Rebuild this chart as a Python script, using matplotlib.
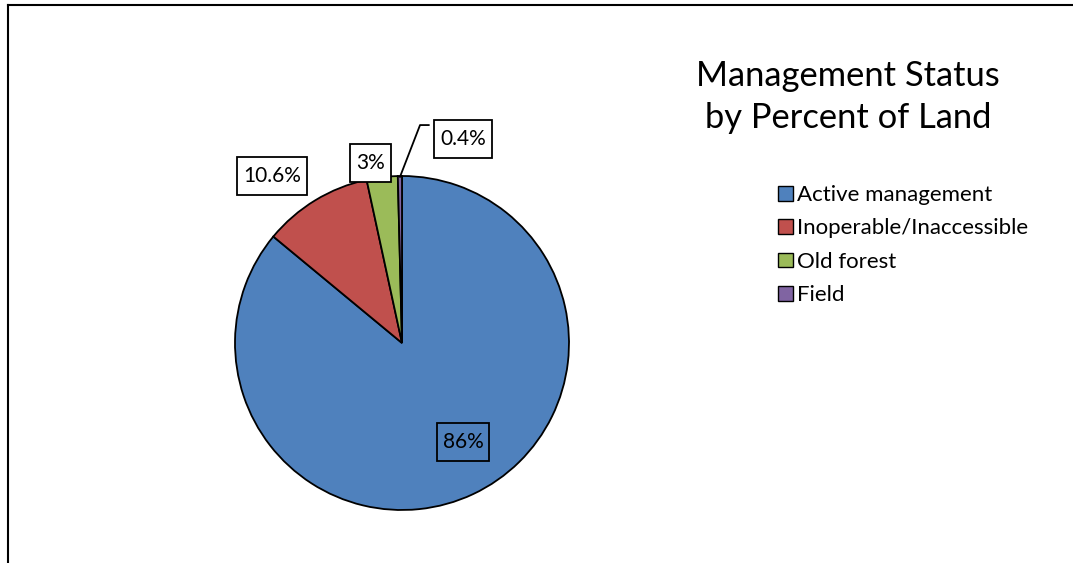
"""Management status pie chart, Excel-style."""

import matplotlib

matplotlib.use("Agg")

import matplotlib.pyplot as plt
from matplotlib.lines import Line2D
from matplotlib.patches import Patch, Rectangle

categories = ["Active management", "Inoperable/Inaccessible", "Old forest", "Field"]
shares = [86, 10.6, 3, 0.4]
share_labels = ["86%", "10.6%", "3%", "0.4%"]
colors = ["#4F81BD", "#C0504D", "#9BBB59", "#8064A2"]

# label box centres in pie units (radius = 1)
label_pos = [(0.365, -0.593), (-0.78, 1.0), (-0.19, 1.078), (0.365, 1.22)]

W, H = 1073, 563
plt.rcParams["font.family"] = ["Lato", "DejaVu Sans"]

fig = plt.figure(figsize=(W / 100, H / 100), dpi=100)
cx, cy, r = 402, 343, 167
ax = fig.add_axes([(cx - r) / W, (H - cy - r) / H, 2 * r / W, 2 * r / H])

ax.pie(
    shares,
    colors=colors,
    startangle=90,
    counterclock=False,
    radius=1,
    wedgeprops=dict(edgecolor="black", linewidth=1.3),
)
ax.set_xlim(-1, 1)
ax.set_ylim(-1, 1)
ax.set_aspect("equal")
ax.axis("off")

texts = []
for text, (x, y) in zip(share_labels, label_pos):
    texts.append(ax.text(x, y, text, ha="center", va="center", fontsize=15,
                         zorder=6, clip_on=False))

# leader line for the tiny slice
ax.add_line(Line2D([-0.012, 0.108, 0.16], [0.995, 1.305, 1.305],
                   color="black", linewidth=1.3, clip_on=False))

# Excel-like label boxes: a bit more padding vertically than horizontally
fig.canvas.draw()
renderer = fig.canvas.get_renderer()
pad_x, pad_y = 6, 9
to_data = ax.transData.inverted()
for i, t in enumerate(texts):
    bb = t.get_window_extent(renderer)
    x0, y0 = to_data.transform((bb.x0 - pad_x, bb.y0 - pad_y))
    x1, y1 = to_data.transform((bb.x1 + pad_x, bb.y1 + pad_y))
    ax.add_patch(Rectangle((x0, y0), x1 - x0, y1 - y0,
                           facecolor="white" if i > 0 else "none",
                           edgecolor="black", linewidth=1.3, zorder=5, clip_on=False))

fig.text(848 / W, 1 - 97 / H, "Management Status\nby Percent of Land",
         ha="center", va="center", fontsize=24.8, linespacing=1.4)

handles = [Patch(facecolor=c, edgecolor="black", linewidth=1.0) for c in colors]
fig.legend(handles, categories, loc="upper left", bbox_to_anchor=(767 / W, 1 - 174 / H),
           frameon=False, fontsize=16, handlelength=0.65, handleheight=0.65,
           handletextpad=0.2, labelspacing=0.6, borderpad=0)

# chart area frame (left and top edges visible)
fig.add_artist(Line2D([7.5 / W, 7.5 / W], [0, 1 - 5 / H], color="black", linewidth=1.5,
                      transform=fig.transFigure))
fig.add_artist(Line2D([7.5 / W, 1], [1 - 5 / H, 1 - 5 / H], color="black", linewidth=1.5,
                      transform=fig.transFigure))

fig.savefig("out.png", dpi=100)
